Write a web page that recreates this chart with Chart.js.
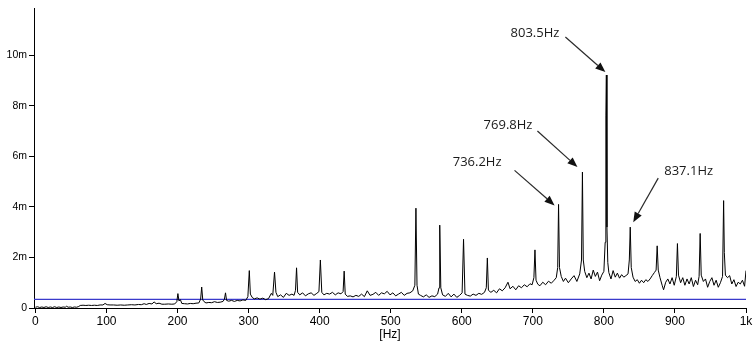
<!DOCTYPE html>
<html>
<head>
<meta charset="utf-8">
<script src="https://cdn.jsdelivr.net/npm/chart.js@4.4.1/dist/chart.umd.min.js"></script>
<style>
  html, body { margin: 0; padding: 0; background: #fff; }
  #wrap { width: 754px; height: 344px; position: relative; }
</style>
</head>
<body>
<div id="wrap"><canvas id="spectrumChart"></canvas></div>
<script>
// spectrum: frequency [Hz] and amplitude [m]
const freqs = [
  0, 3, 6, 9, 12, 15, 18, 21, 24, 27, 30, 33, 36, 39, 42, 44, 46, 49, 52, 55, 58, 61,
  63, 67, 71, 75, 79, 83, 87, 91, 95, 98, 101, 105, 110, 115, 120, 125, 130, 135, 140, 145,
  149, 153, 156, 160, 164, 167, 170, 174, 178, 182, 187, 192, 196,
  199, 200.5, 202, 204, 206, 210, 214, 218, 222, 226, 230, 232.5, 234, 235.5, 237, 240, 244,
  248, 252, 256, 260, 264, 266, 267.5, 269, 272, 276, 280, 284, 288, 292, 296, 299, 301,
  302.5, 305, 308, 312, 316, 320, 324, 328, 332, 334, 336.5, 338.5, 341, 345, 349, 353, 357,
  361, 364, 366, 367.5, 369, 372, 376, 380, 384, 388, 392, 396, 399, 401, 403, 406, 410,
  414, 418, 422, 426, 430, 433, 434.5, 436, 439, 443, 447, 451, 455, 459, 463, 467, 471,
  475, 479, 483, 487, 491, 495, 499, 503, 507, 511, 515, 519, 523, 527, 531, 534, 535.5,
  537, 539, 542, 546, 550, 554, 558, 562, 566, 568, 569, 570.5, 573, 577, 581, 585, 589,
  593, 597, 600.5, 602.5, 604.5, 608, 612, 616, 620, 624, 628, 632, 634.5, 636, 637.5, 641,
  645, 649, 653, 657, 661, 665, 668, 672, 676, 680, 684, 688, 692, 696, 699, 701.5, 703,
  704.5, 707, 710, 714, 718, 722, 726, 730, 733, 735, 736.2, 737.5, 740, 743, 746, 750,
  754, 758, 762, 766, 768.5, 769.8, 771, 773, 776, 779, 782, 785, 788, 791, 794, 797, 800,
  801.8, 802.8, 803.5, 804.3, 805.5, 807, 810, 813, 816, 819, 822, 825, 828, 831, 834,
  835.8, 837.1, 838.5, 841, 844, 847, 850, 853, 856, 859, 862, 865, 868, 871, 873.5, 875,
  876.5, 879, 882, 884, 887, 890, 893, 896, 899, 902, 903.5, 905, 908, 911, 914, 917, 920,
  923, 926, 929, 932, 934, 935.5, 937, 940, 943, 946, 949, 952, 955, 958, 961, 964, 967,
  968.5, 969.5, 971, 974, 977, 980, 983, 986, 989, 992, 995, 998, 1000
];
const amps = [
  0.03, 0.05, 0.02, 0.04, 0.02, 0.05, 0.02, 0.04, 0.02, 0.05, 0.02, 0.04, 0.02, 0.04, 0.03, 0.07, 0.03, 0.04, 0.02, 0.04, 0.03, 0.06,
  0.1, 0.11, 0.1, 0.11, 0.1, 0.11, 0.1, 0.12, 0.12, 0.18, 0.13, 0.12, 0.12, 0.11, 0.12, 0.11, 0.12, 0.13, 0.12, 0.14,
  0.13, 0.17, 0.14, 0.18, 0.16, 0.24, 0.17, 0.19, 0.15, 0.15, 0.16, 0.15, 0.16,
  0.25, 0.57, 0.28, 0.33, 0.18, 0.17, 0.16, 0.18, 0.17, 0.19, 0.2, 0.35, 0.83, 0.32, 0.26, 0.2, 0.22,
  0.21, 0.25, 0.22, 0.23, 0.26, 0.35, 0.6, 0.3, 0.27, 0.3, 0.26, 0.3, 0.28, 0.32, 0.3, 0.45, 1.48,
  0.55, 0.42, 0.36, 0.4, 0.35, 0.39, 0.33, 0.37, 0.58, 0.5, 1.42, 0.62, 0.45, 0.52, 0.42, 0.58, 0.5,
  0.55, 0.5, 0.7, 1.59, 0.62, 0.52, 0.6, 0.48, 0.56, 0.6, 0.5, 0.58, 0.65, 1.9, 0.62, 0.52, 0.58,
  0.55, 0.62, 0.52, 0.6, 0.56, 0.65, 1.46, 0.55, 0.46, 0.48, 0.44, 0.5, 0.46, 0.55, 0.45, 0.68, 0.5,
  0.54, 0.62, 0.5, 0.6, 0.56, 0.66, 0.52, 0.6, 0.48, 0.55, 0.62, 0.5, 0.58, 0.6, 0.68, 0.9, 3.95,
  0.9, 0.55, 0.5, 0.44, 0.52, 0.42, 0.48, 0.45, 0.55, 0.8, 3.28, 0.8, 0.52, 0.46, 0.58, 0.44, 0.55,
  0.42, 0.5, 0.6, 2.72, 0.55, 0.5, 0.47, 0.55, 0.5, 0.58, 0.54, 0.62, 0.8, 1.98, 0.7, 0.62,
  0.7, 0.6, 0.76, 0.68, 0.8, 1.02, 0.76, 0.86, 0.72, 0.88, 0.8, 0.92, 0.84, 0.96, 0.92, 1.2, 2.3,
  1.1, 0.94, 0.88, 1.02, 0.92, 1.06, 0.98, 1.1, 1.2, 1.6, 4.1, 1.6, 1.25, 1.05, 1.18, 1.0,
  1.15, 1.28, 1.05, 1.35, 1.9, 5.38, 1.9, 1.45, 1.2, 1.38, 1.15, 1.5, 1.25, 1.42, 1.08, 1.3, 1.45,
  2.6, 7.6, 9.22, 3.2, 1.8, 1.4, 1.15, 1.48, 1.22, 1.38, 1.18, 1.32, 1.22, 1.28, 1.35,
  1.9, 3.2, 1.6, 1.22, 1.05, 1.12, 0.98, 1.1, 1.0, 1.12, 1.05, 1.15, 1.28, 1.4, 1.5, 2.46,
  1.5, 1.2, 0.9, 0.72, 1.02, 1.15, 0.95, 1.2, 0.9, 1.25, 2.55, 1.3, 1.0, 1.2, 0.9, 1.15, 0.95,
  1.2, 0.85, 1.1, 0.92, 1.25, 2.95, 1.3, 1.05, 1.15, 0.82, 1.05, 1.2, 0.9, 1.1, 0.82, 1.0, 1.25,
  4.25, 2.2, 1.3, 1.2, 1.28, 0.95, 1.12, 0.85, 1.02, 0.95, 1.1, 0.86, 1.48
];
const thresholdLevel = 0.34;

const xTicks = [0, 100, 200, 300, 400, 500, 600, 700, 800, 900, 1000];
const xTickLabels = ['0', '100', '200', '300', '400', '500', '600', '700', '800', '900', '1k'];
const yTicks = [0, 2, 4, 6, 8, 10];
const yTickLabels = ['0', '2m', '4m', '6m', '8m', '10m'];

const peakFreqs = [736.2, 769.8, 803.5, 837.1];
const peakTexts = ['736.2Hz', '769.8Hz', '803.5Hz', '837.1Hz'];

// where each arrow sits relative to its peak (pixels)
const arrowStyle = [
  { tip: [-4, 1],  tail: [-40, -35], text: [-13, -8], align: 'right' },
  { tip: [-5, -5], tail: [-40, -36], text: [-5, -6],  align: 'right' },
  { tip: [-1, -3], tail: [-40, -35], text: [-6, -4],  align: 'right' },
  { tip: [3, -5],  tail: [25, -44],  text: [6, -7],   align: 'left' }
];

function ampAt(f) {
  let best = 0;
  for (let i = 0; i < freqs.length; i++) {
    if (Math.abs(freqs[i] - f) < Math.abs(freqs[best] - f)) best = i;
  }
  return amps[best];
}

const peakLabels = {
  id: 'peakLabels',
  afterDatasetsDraw(chart) {
    const ctx = chart.ctx;
    const xs = chart.scales.x, ys = chart.scales.y;
    ctx.save();
    peakFreqs.forEach((f, i) => {
      const st = arrowStyle[i];
      const px = xs.getPixelForValue(f);
      const py = ys.getPixelForValue(ampAt(f));
      const tx = px + st.tip[0], ty = py + st.tip[1];
      const sx = tx + st.tail[0], sy = ty + st.tail[1];
      const ang = Math.atan2(ty - sy, tx - sx);
      const headLen = 10, headW = 4;
      const bx = tx - headLen * Math.cos(ang), by = ty - headLen * Math.sin(ang);

      ctx.strokeStyle = '#2a2a2a';
      ctx.fillStyle = '#111';
      ctx.lineWidth = 1.2;
      ctx.beginPath();
      ctx.moveTo(sx, sy);
      ctx.lineTo(bx, by);
      ctx.stroke();
      ctx.beginPath();
      ctx.moveTo(tx, ty);
      ctx.lineTo(bx + headW * Math.sin(ang), by - headW * Math.cos(ang));
      ctx.lineTo(bx - headW * Math.sin(ang), by + headW * Math.cos(ang));
      ctx.closePath();
      ctx.fill();

      ctx.font = '13px "Open Sans", sans-serif';
      ctx.textAlign = st.align;
      ctx.textBaseline = 'middle';
      ctx.fillStyle = '#1a1a1a';
      ctx.fillText(peakTexts[i], sx + st.text[0], sy + st.text[1]);
    });
    ctx.restore();
  }
};

const spectrumPoints = freqs.map((f, i) => ({ x: f, y: amps[i] }));
const thresholdPoints = [{ x: -2, y: thresholdLevel }, { x: 1000, y: thresholdLevel }];

const tickFont = "'Liberation Sans', Arial, sans-serif";

new Chart(document.getElementById('spectrumChart').getContext('2d'), {
  type: 'line',
  data: {
    datasets: [
      {
        data: spectrumPoints,
        borderColor: '#000',
        borderWidth: 1,
        pointRadius: 0,
        tension: 0
      },
      {
        data: thresholdPoints,
        borderColor: '#3a3acb',
        borderWidth: 1.2,
        pointRadius: 0,
        tension: 0
      }
    ]
  },
  options: {
    responsive: true,
    maintainAspectRatio: false,
    animation: false,
    layout: { padding: { top: 4, right: 8, left: 0, bottom: 0 } },
    plugins: {
      legend: { display: false },
      tooltip: { enabled: false }
    },
    scales: {
      x: {
        type: 'linear',
        min: -2,
        max: 1000,
        afterBuildTicks: scale => { scale.ticks = xTicks.map(v => ({ value: v })); },
        afterFit: scale => { scale.height = 36; },
        ticks: {
          autoSkip: false,
          maxRotation: 0,
          padding: 1,
          color: '#000',
          font: { family: tickFont, size: 12 },
          callback: value => xTickLabels[xTicks.indexOf(value)]
        },
        grid: { drawOnChartArea: false, tickLength: 5, color: '#000' },
        border: { color: '#000' },
        title: {
          display: true,
          text: '[Hz]',
          color: '#000',
          font: { family: tickFont, size: 12 },
          padding: { top: 0, bottom: 2 }
        }
      },
      y: {
        min: 0,
        max: 11.86,
        afterBuildTicks: scale => { scale.ticks = yTicks.map(v => ({ value: v })); },
        afterFit: scale => { scale.width = 34; },
        ticks: {
          padding: 2,
          color: '#000',
          font: { family: tickFont, size: 10.5 },
          callback: value => yTickLabels[yTicks.indexOf(value)]
        },
        grid: { drawOnChartArea: false, tickLength: 5, color: '#000' },
        border: { color: '#000' }
      }
    }
  },
  plugins: [peakLabels]
});
</script>
</body>
</html>
